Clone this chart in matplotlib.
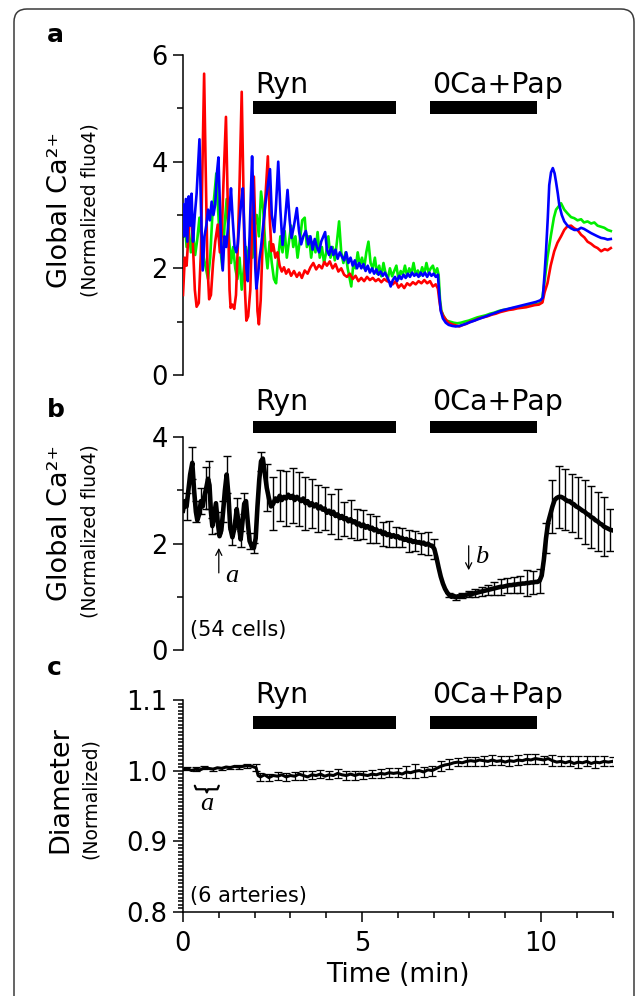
import numpy as np
import matplotlib
matplotlib.use("Agg")
import matplotlib.pyplot as plt
from matplotlib.patches import Rectangle, FancyBboxPatch
from matplotlib.ticker import MultipleLocator, FixedLocator

plt.rcParams['font.family'] = ['DejaVu Sans']
plt.rcParams['mathtext.default'] = 'regular'

# ---------------- Panel a data (three cells) ----------------
red_t = [0.00,0.05,0.10,0.15,0.22,0.28,0.33,0.38,0.44,0.50,0.55,0.59,0.63,0.68,0.73,0.78,0.84,0.90,0.97,1.03,
         1.08,1.13,1.20,1.25,1.30,1.33,1.38,1.43,1.48,1.53,1.58,1.64,1.69,1.73,1.77,1.82,1.88,1.93,1.98,2.03,
         2.08,2.12,2.17,2.22,2.30,2.37,2.42,2.47,2.52,2.58,2.64,2.70,2.76,2.82,2.88,2.95,3.02,3.10,3.18,3.25,
         3.32,3.40,3.48,3.56,3.64,3.72,3.80,3.88,3.95,4.02,4.10,4.18,4.26,4.34,4.42,4.50,4.58,4.66,4.74,4.82,
         4.90,4.98,5.06,5.14,5.22,5.30,5.38,5.46,5.54,5.62,5.70,5.78,5.86,5.94,6.02,6.10,6.18,6.26,6.34,6.42,
         6.50,6.58,6.66,6.74,6.82,6.90,6.98,7.06,7.12,7.16,7.20,7.26,7.34,7.42,7.52,7.62,7.72,7.82,7.92,8.02,
         8.14,8.26,8.38,8.50,8.62,8.74,8.86,8.98,9.10,9.22,9.34,9.46,9.58,9.70,9.82,9.94,10.04,10.10,10.18,10.27,
         10.37,10.46,10.56,10.65,10.74,10.84,10.93,11.02,11.12,11.21,11.30,11.40,11.49,11.58,11.68,11.78,11.86,11.95]
red_v = [1.50,2.20,2.05,2.60,3.25,2.40,1.60,1.28,1.35,2.30,4.20,5.65,4.00,2.10,1.42,1.50,2.10,2.50,2.82,2.30,
         2.60,3.60,4.84,3.20,1.60,1.26,1.32,1.24,1.50,2.40,3.60,5.31,3.40,1.60,1.02,1.10,1.60,2.80,3.72,2.50,
         1.20,0.95,1.40,2.40,3.30,4.10,3.00,2.32,2.45,2.20,2.30,2.05,1.94,2.02,1.90,1.98,1.86,1.95,1.84,1.92,
         1.82,1.96,1.90,2.02,2.10,1.98,2.06,2.00,2.12,2.05,2.13,2.00,2.08,1.94,2.00,1.88,1.84,1.90,1.80,1.86,
         1.76,1.82,1.76,1.84,1.78,1.82,1.76,1.80,1.74,1.80,1.76,1.74,1.70,1.76,1.64,1.70,1.63,1.72,1.68,1.74,
         1.70,1.76,1.72,1.78,1.72,1.76,1.66,1.70,1.62,1.40,1.22,1.12,1.04,0.98,0.95,0.93,0.91,0.94,0.96,1.00,
         1.02,1.06,1.08,1.10,1.13,1.15,1.18,1.20,1.22,1.23,1.25,1.26,1.27,1.29,1.31,1.32,1.36,1.55,1.72,2.05,
         2.32,2.48,2.60,2.72,2.79,2.80,2.75,2.72,2.63,2.58,2.50,2.46,2.41,2.38,2.32,2.36,2.34,2.38]

green_t = [0.00,0.05,0.10,0.16,0.22,0.28,0.34,0.40,0.46,0.52,0.58,0.64,0.70,0.76,0.82,0.88,0.93,0.98,1.04,1.10,
           1.16,1.22,1.28,1.34,1.40,1.46,1.52,1.58,1.64,1.70,1.76,1.82,1.88,1.94,2.00,2.06,2.12,2.18,2.24,2.30,
           2.36,2.42,2.48,2.54,2.60,2.66,2.72,2.78,2.84,2.90,2.96,3.02,3.08,3.14,3.20,3.26,3.33,3.40,3.46,3.52,
           3.58,3.64,3.70,3.76,3.82,3.88,3.94,4.00,4.06,4.12,4.18,4.24,4.30,4.36,4.42,4.48,4.54,4.60,4.66,4.70,
           4.76,4.82,4.88,4.94,5.00,5.06,5.12,5.18,5.24,5.30,5.36,5.42,5.48,5.54,5.60,5.66,5.72,5.78,5.84,5.90,
           5.96,6.02,6.08,6.14,6.20,6.26,6.32,6.38,6.44,6.50,6.56,6.62,6.68,6.74,6.80,6.86,6.92,6.98,7.04,7.10,
           7.14,7.18,7.22,7.28,7.36,7.46,7.56,7.66,7.76,7.86,7.98,8.10,8.22,8.34,8.46,8.58,8.70,8.82,8.94,9.06,
           9.18,9.30,9.42,9.54,9.66,9.78,9.90,10.02,10.09,10.18,10.28,10.36,10.42,10.49,10.56,10.65,10.74,10.84,10.93,11.02,
           11.12,11.20,11.30,11.40,11.49,11.58,11.68,11.77,11.86,11.95]
green_v = [2.60,2.90,2.40,2.75,2.30,2.65,2.25,2.55,2.95,2.50,2.20,2.00,1.80,2.20,3.00,3.40,3.78,3.10,2.40,2.00,
           2.80,3.30,2.60,2.10,2.40,2.00,1.80,2.20,1.60,2.00,2.40,2.10,2.60,2.20,2.80,3.00,2.60,3.44,3.10,2.40,
           2.00,2.50,2.10,1.80,1.72,2.20,2.60,2.30,2.70,2.20,2.50,2.80,2.40,2.60,2.20,2.50,2.90,2.95,2.40,2.60,
           2.20,2.50,2.30,2.68,2.20,2.40,2.10,2.30,2.60,2.20,2.40,2.15,2.50,2.88,2.30,2.10,2.30,2.00,1.80,1.66,
           2.10,2.00,2.30,2.05,2.20,2.00,2.30,2.50,2.10,2.00,2.20,1.90,2.05,1.85,2.10,1.90,1.80,2.00,1.85,1.95,
           2.05,1.80,1.95,1.88,2.05,1.85,2.00,1.90,2.10,1.88,1.96,1.86,2.02,1.90,2.10,1.92,2.00,2.05,1.90,2.00,
           1.88,1.40,1.20,1.10,1.02,1.00,0.98,0.97,0.98,1.00,1.02,1.05,1.08,1.10,1.12,1.15,1.17,1.20,1.22,1.23,
           1.25,1.26,1.28,1.29,1.31,1.32,1.33,1.36,1.70,2.20,2.63,2.95,3.10,3.16,3.22,3.10,3.03,2.96,2.94,2.90,
           2.92,2.86,2.88,2.84,2.86,2.80,2.78,2.76,2.72,2.70]

blue_t = [0.00,0.04,0.08,0.12,0.16,0.20,0.24,0.28,0.33,0.38,0.42,0.46,0.50,0.55,0.60,0.65,0.70,0.75,0.80,0.85,
          0.90,0.95,0.99,1.03,1.07,1.11,1.16,1.21,1.26,1.30,1.34,1.39,1.44,1.49,1.53,1.58,1.62,1.67,1.72,1.77,
          1.81,1.86,1.90,1.93,1.98,2.02,2.05,2.10,2.14,2.18,2.24,2.30,2.36,2.43,2.48,2.55,2.60,2.66,2.72,2.78,
          2.85,2.92,2.98,3.03,3.10,3.18,3.24,3.30,3.36,3.43,3.50,3.56,3.62,3.68,3.74,3.80,3.86,3.92,3.97,4.02,
          4.08,4.14,4.20,4.26,4.32,4.38,4.44,4.50,4.56,4.62,4.68,4.74,4.80,4.86,4.92,4.98,5.04,5.10,5.16,5.22,
          5.28,5.34,5.40,5.46,5.52,5.58,5.64,5.70,5.76,5.80,5.86,5.92,5.98,6.04,6.10,6.16,6.22,6.28,6.34,6.40,
          6.46,6.52,6.58,6.64,6.70,6.76,6.82,6.88,6.94,7.00,7.06,7.12,7.16,7.20,7.26,7.34,7.42,7.52,7.62,7.72,
          7.82,7.94,8.06,8.18,8.30,8.42,8.54,8.66,8.78,8.90,9.02,9.14,9.26,9.38,9.50,9.62,9.74,9.86,9.98,10.05,
          10.10,10.14,10.19,10.23,10.28,10.33,10.38,10.42,10.47,10.51,10.58,10.65,10.74,10.84,10.93,11.02,11.12,11.20,11.30,11.40,
          11.49,11.58,11.68,11.77,11.86,11.95]
blue_v = [3.20,2.60,3.30,2.50,3.35,2.80,3.40,2.50,3.00,3.40,3.90,4.42,3.20,1.96,2.60,2.80,3.10,2.90,3.25,3.00,
          3.20,3.80,4.08,3.20,2.40,1.96,2.60,2.40,2.80,3.10,3.50,2.90,2.40,2.30,2.45,2.90,3.20,3.50,2.60,2.00,
          1.76,2.60,3.50,4.10,3.00,2.00,1.62,1.90,2.20,2.40,2.80,3.20,3.50,3.86,3.00,2.68,3.20,4.00,3.10,2.44,
          2.90,3.47,2.90,2.57,2.80,3.13,2.70,2.45,2.60,2.70,2.45,2.60,2.35,2.55,2.40,2.30,2.50,2.60,2.68,2.35,
          2.25,2.40,2.25,2.35,2.18,2.30,2.22,2.15,2.30,2.10,2.20,2.05,2.15,2.00,2.10,2.00,2.08,1.95,2.05,1.92,
          2.00,1.90,1.98,1.88,1.94,1.86,1.92,1.84,1.75,1.66,1.78,1.84,1.76,1.86,1.80,1.88,1.82,1.90,1.84,1.92,
          1.86,1.90,1.84,1.92,1.86,1.92,1.84,1.92,1.86,1.90,1.84,1.88,1.50,1.20,1.06,0.98,0.94,0.92,0.91,0.92,
          0.94,0.97,1.00,1.03,1.06,1.09,1.12,1.15,1.18,1.21,1.23,1.25,1.27,1.29,1.31,1.33,1.35,1.37,1.40,1.45,
          1.90,2.32,2.95,3.56,3.80,3.88,3.78,3.62,3.40,3.19,3.00,2.88,2.80,2.75,2.72,2.72,2.76,2.74,2.70,2.66,
          2.63,2.60,2.57,2.56,2.54,2.55]

# ---------------- Panel b data (mean of 54 cells, SEM) ----------------
b_t = [0.00,0.05,0.10,0.15,0.20,0.26,0.31,0.36,0.40,0.45,0.50,0.55,0.60,0.65,0.70,0.74,0.78,0.82,0.87,0.92,
       0.97,1.02,1.07,1.12,1.17,1.22,1.27,1.32,1.38,1.44,1.50,1.55,1.61,1.66,1.71,1.76,1.81,1.86,1.92,1.98,
       2.03,2.08,2.13,2.18,2.23,2.28,2.34,2.40,2.46,2.52,2.58,2.64,2.70,2.76,2.82,2.88,2.94,3.00,3.06,3.12,
       3.18,3.24,3.30,3.36,3.42,3.48,3.54,3.60,3.66,3.72,3.78,3.84,3.90,3.96,4.02,4.08,4.14,4.20,4.26,4.32,
       4.38,4.44,4.50,4.56,4.62,4.68,4.74,4.80,4.86,4.92,4.98,5.04,5.10,5.16,5.22,5.28,5.34,5.40,5.46,5.52,
       5.58,5.64,5.70,5.76,5.82,5.88,5.94,6.00,6.06,6.12,6.18,6.24,6.30,6.36,6.42,6.48,6.54,6.60,6.66,6.72,
       6.78,6.84,6.90,6.96,7.02,7.08,7.14,7.20,7.26,7.32,7.38,7.44,7.50,7.56,7.62,7.68,7.74,7.80,7.86,7.92,
       7.98,8.04,8.10,8.16,8.22,8.28,8.34,8.40,8.46,8.52,8.58,8.64,8.70,8.76,8.82,8.88,8.94,9.00,9.06,9.12,
       9.18,9.24,9.30,9.36,9.42,9.48,9.54,9.60,9.66,9.72,9.78,9.84,9.90,9.96,10.02,10.08,10.14,10.20,10.26,10.32,
       10.38,10.44,10.50,10.56,10.62,10.68,10.74,10.80,10.86,10.92,10.98,11.04,11.10,11.16,11.22,11.28,11.34,11.40,11.46,11.52,
       11.58,11.64,11.70,11.76,11.82,11.88,11.94,12.00]
b_v = [2.62,2.80,2.70,3.00,3.30,3.52,3.00,2.60,2.44,2.55,2.80,2.70,2.90,3.05,3.22,3.10,2.60,2.33,2.55,2.76,
       2.40,2.14,2.25,2.60,3.00,3.30,2.90,2.30,2.12,2.30,2.65,2.40,2.08,2.40,2.75,2.80,2.40,2.05,1.95,1.92,
       2.10,2.70,3.20,3.55,3.60,3.35,3.05,2.85,2.70,2.75,2.85,2.80,2.90,2.82,2.88,2.85,2.92,2.86,2.90,2.82,
       2.88,2.84,2.80,2.85,2.76,2.80,2.72,2.76,2.70,2.74,2.66,2.70,2.64,2.66,2.58,2.62,2.56,2.60,2.52,2.55,
       2.48,2.52,2.46,2.48,2.42,2.46,2.40,2.42,2.36,2.38,2.33,2.36,2.30,2.33,2.28,2.30,2.25,2.27,2.22,2.24,
       2.18,2.21,2.16,2.18,2.13,2.16,2.12,2.14,2.10,2.11,2.07,2.09,2.05,2.07,2.03,2.05,2.02,2.03,2.00,2.02,
       1.98,2.00,1.97,1.96,1.90,1.74,1.55,1.38,1.25,1.15,1.08,1.03,1.00,1.02,0.99,1.01,1.00,1.03,1.02,1.04,
       1.05,1.04,1.06,1.07,1.08,1.09,1.10,1.11,1.12,1.13,1.14,1.15,1.16,1.17,1.18,1.19,1.19,1.20,1.21,1.22,
       1.22,1.23,1.23,1.24,1.24,1.25,1.25,1.26,1.26,1.27,1.27,1.28,1.28,1.30,1.40,1.70,2.10,2.40,2.55,2.70,
       2.82,2.86,2.88,2.88,2.86,2.83,2.80,2.80,2.76,2.74,2.70,2.68,2.65,2.62,2.60,2.56,2.54,2.50,2.48,2.44,
       2.42,2.38,2.36,2.32,2.30,2.28,2.26,2.25]
b_err = [0,0,0.25,0,0,0.30,0,0.20,0,0,0.25,0,0,0.40,0,0.45,0,0.15,0,0,
         0.20,0,0,0.20,0,0.35,0,0,0.15,0,0.20,0,0.15,0,0.20,0,0,0.15,0,0.10,
         0,0,0,0.18,0,0,0.44,0,0,0.50,0,0,0.48,0,0,0.52,0,0,0.52,0,
         0,0.50,0,0,0.50,0,0,0.46,0,0,0.45,0,0,0.40,0,0,0.38,0,0,0.47,
         0,0,0.32,0,0,0.36,0,0,0.30,0,0,0.28,0,0,0.27,0,0,0.25,0,0,
         0.22,0,0,0.25,0,0,0.19,0,0,0.18,0,0,0.20,0,0,0.18,0,0,0.20,0,
         0,0.22,0,0,0.18,0,0,0,0,0,0,0.04,0,0,0.05,0,0,0.05,0,0,
         0.06,0,0,0.07,0,0,0.08,0,0,0.10,0,0,0.12,0,0,0.15,0,0,0.14,0,
         0,0.15,0,0,0.16,0,0,0.25,0,0,0.22,0,0,0.22,0,0,0.28,0,0,0.50,
         0,0,0.58,0,0,0.58,0,0,0.55,0,0,0.58,0,0,0.60,0,0,0.58,0,0,
         0.55,0,0,0.55,0,0,0.40,0]

# ---------------- Panel c data (diameter, 6 arteries) ----------------
c_t = [0.00,0.12,0.24,0.36,0.48,0.60,0.72,0.84,0.96,1.08,1.20,1.32,1.44,1.56,1.68,1.80,1.92,2.04,2.10,2.16,
       2.28,2.40,2.52,2.64,2.76,2.88,3.00,3.12,3.24,3.36,3.48,3.60,3.72,3.84,3.96,4.08,4.20,4.32,4.44,4.56,
       4.68,4.80,4.92,5.04,5.16,5.28,5.40,5.52,5.64,5.76,5.88,6.00,6.12,6.24,6.36,6.48,6.60,6.72,6.84,6.96,
       7.08,7.20,7.32,7.44,7.56,7.68,7.80,7.92,8.04,8.16,8.28,8.40,8.52,8.64,8.76,8.88,9.00,9.12,9.24,9.36,
       9.48,9.60,9.72,9.84,9.96,10.08,10.20,10.32,10.44,10.56,10.68,10.80,10.92,11.04,11.16,11.28,11.40,11.52,11.64,11.76,
       11.88,12.00]
c_v = [1.001,1.003,1.000,1.002,1.001,1.004,1.003,1.002,1.004,1.003,1.005,1.004,1.006,1.005,1.006,1.007,1.006,1.004,0.993,0.991,
       0.994,0.990,0.993,0.992,0.994,0.991,0.993,0.992,0.995,0.993,0.991,0.994,0.993,0.995,0.992,0.994,0.993,0.996,0.994,0.993,
       0.995,0.993,0.995,0.994,0.993,0.995,0.994,0.996,0.995,0.997,0.996,0.997,0.995,0.998,0.997,0.999,1.000,0.998,1.001,1.000,
       1.003,1.006,1.008,1.009,1.011,1.012,1.011,1.013,1.014,1.013,1.015,1.014,1.013,1.015,1.013,1.014,1.012,1.014,1.013,1.015,
       1.014,1.016,1.015,1.017,1.016,1.015,1.017,1.014,1.012,1.013,1.011,1.013,1.010,1.012,1.011,1.013,1.010,1.012,1.011,1.013,
       1.012,1.013]
c_err = [0,0.002,0,0.003,0,0.002,0,0.002,0,0.002,0,0.002,0,0.003,0,0.003,0,0.005,0,0.006,
         0,0.005,0,0.006,0,0.006,0,0.006,0,0.006,0,0.006,0,0.006,0,0.006,0,0.006,0,0.006,
         0,0.006,0,0.006,0,0.006,0,0.006,0,0.006,0,0.006,0,0.008,0,0.010,0,0.007,0,0.007,
         0,0.007,0,0.007,0,0.006,0,0.006,0,0.006,0,0.007,0,0.007,0,0.006,0,0.007,0,0.007,
         0,0.007,0,0.007,0,0.006,0,0.008,0,0.007,0,0.007,0,0.008,0,0.007,0,0.008,0,0.007,
         0,0.006]

# treatment periods (min)
ryn_period = (1.95, 5.95)
pap_period = (6.90, 9.90)
ryn_label = "Ryn"
pap_label = "0Ca+Pap"

# ---------------- figure ----------------
W, H = 636, 996
fig = plt.figure(figsize=(W / 100, H / 100), dpi=100)

def fx(x):
    return x / W

def fy(y):
    return 1 - y / H

# rounded frame
frame = FancyBboxPatch((14 / 100, -0.2), (634 - 14) / 100, (996 - 9) / 100 + 0.2,
                       boxstyle="round,pad=0,rounding_size=0.13",
                       transform=fig.dpi_scale_trans, fill=False,
                       edgecolor='#3a3a3a', linewidth=1.1, clip_on=False)
fig.patches.append(frame)

x0px, x1px = 183, 612.6
axA = fig.add_axes([fx(x0px), fy(375), (x1px - x0px) / W, (375 - 55) / H])
axB = fig.add_axes([fx(x0px), fy(650), (x1px - x0px) / W, (650 - 437.3) / H])
axC = fig.add_axes([fx(x0px), fy(911.7), (x1px - x0px) / W, (911.7 - 700) / H])

for ax in (axA, axB, axC):
    ax.set_xlim(0, 12)
    for s in ('top', 'right'):
        ax.spines[s].set_visible(False)
    ax.spines['left'].set_linewidth(1.1)
    ax.spines['bottom'].set_linewidth(1.1)
    ax.tick_params(axis='both', which='major', direction='out', length=7, width=1.1,
                   labelsize=18.5, pad=4)
    ax.tick_params(axis='both', which='minor', direction='out', length=4.5, width=1.1)
    ax.patch.set_visible(False)

for ax in (axA, axB):
    ax.spines['bottom'].set_visible(False)
    ax.set_xticks([])
    ax.tick_params(axis='x', which='both', bottom=False, labelbottom=False)

# Panel a
axA.plot(green_t, green_v, color='#00ee00', lw=1.9, zorder=2)
axA.plot(red_t, red_v, color='#ff0000', lw=1.9, zorder=3)
axA.plot(blue_t, blue_v, color='#0000ff', lw=1.9, zorder=4)
axA.set_ylim(0, 6)
axA.yaxis.set_major_locator(FixedLocator([0, 2, 4, 6]))
axA.yaxis.set_minor_locator(FixedLocator([1, 3, 5]))

# Panel b
b_t_arr = np.array(b_t)
b_v_arr = np.array(b_v)
b_e_arr = np.array(b_err)
m = b_e_arr > 0
axB.errorbar(b_t_arr[m], b_v_arr[m], yerr=b_e_arr[m], fmt='none', ecolor='black',
             elinewidth=1.0, capsize=3.2, capthick=1.0, zorder=2)
axB.plot(b_t, b_v, color='black', lw=3.3, zorder=3)
axB.set_ylim(0, 4)
axB.yaxis.set_major_locator(FixedLocator([0, 2, 4]))
axB.yaxis.set_minor_locator(FixedLocator([1, 3]))

# Panel c
c_t_arr = np.array(c_t)
c_v_arr = np.array(c_v)
c_e_arr = np.array(c_err)
mc = c_e_arr > 0
axC.errorbar(c_t_arr[mc], c_v_arr[mc], yerr=c_e_arr[mc], fmt='none', ecolor='black',
             elinewidth=0.9, capsize=2.6, capthick=0.9, zorder=2)
axC.plot(c_t, c_v, color='black', lw=2.2, zorder=3)
axC.set_ylim(0.8, 1.1)
axC.yaxis.set_major_locator(FixedLocator([0.8, 0.9, 1.0, 1.1]))
axC.yaxis.set_minor_locator(MultipleLocator(0.005))
axC.set_yticklabels(['0.8', '0.9', '1.0', '1.1'])
axC.xaxis.set_major_locator(FixedLocator([0, 5, 10]))
axC.xaxis.set_minor_locator(MultipleLocator(1))
axC.tick_params(axis='y', which='minor', length=3.5)
axC.tick_params(axis='x', which='major', pad=7)
axC.tick_params(axis='x', which='minor', length=4.5)

# treatment bars and labels
bar_specs = [  # (axis, bar centre, bar thickness, text baseline)
    (axA, 5.016, 0.237, 5.29),
    (axB, 4.19, 0.237, 4.51),
    (axC, 1.0677, 0.0179, 1.0956),
]
for ax, yc, th, ytxt in bar_specs:
    for (t0, t1), lab in ((ryn_period, ryn_label), (pap_period, pap_label)):
        ax.add_patch(Rectangle((t0, yc - th / 2), t1 - t0, th, facecolor='black',
                               edgecolor='none', clip_on=False, zorder=5))
        ax.text(t0 + 0.06, ytxt, lab, fontsize=20.5, va='baseline', ha='left',
                clip_on=False)

# annotations in b
serif = ['Liberation Serif', 'DejaVu Serif']
axB.annotate('', xy=(1.00, 1.92), xytext=(1.00, 1.45),
             arrowprops=dict(arrowstyle='->', lw=0.9, color='black', mutation_scale=11,
                             shrinkA=0, shrinkB=0))
axB.text(1.37, 1.28, 'a', fontsize=19, style='italic', family=serif,
         ha='center', va='baseline')
axB.annotate('', xy=(7.98, 1.50), xytext=(7.98, 1.96),
             arrowprops=dict(arrowstyle='->', lw=0.9, color='black', mutation_scale=11,
                             shrinkA=0, shrinkB=0))
axB.text(8.34, 1.63, 'b', fontsize=19, style='italic', family=serif,
         ha='center', va='baseline')
axB.text(0.20, 0.376, '(54 cells)', fontsize=15, ha='left', va='center')

# annotations in c
brace_x = [0.33, 0.37, 0.63, 0.665, 0.70, 0.96, 1.00]
brace_y = [0.9785, 0.9735, 0.9735, 0.9690, 0.9735, 0.9735, 0.9785]
axC.plot(brace_x, brace_y, color='black', lw=1.6, solid_capstyle='round', zorder=4)
axC.text(0.665, 0.944, 'a', fontsize=19, style='italic', family=serif,
         ha='center', va='baseline')
axC.text(0.20, 0.8225, '(6 arteries)', fontsize=15, ha='left', va='center')

# axis labels
for yc, big in ((210, 'Global Ca\u00b2\u207a'), (523, 'Global Ca\u00b2\u207a'), (790, 'Diameter')):
    fig.text(fx(67), fy(yc), big, rotation=90, rotation_mode='anchor', ha='center',
             va='baseline', fontsize=19.5)
small_labels = ((210, '(Normalized fluo4)'), (531, '(Normalized fluo4)'), (799, '(Normalized)'))
for ync, txt in small_labels:
    fig.text(fx(96), fy(ync), txt, rotation=90, rotation_mode='anchor', ha='center',
             va='baseline', fontsize=13.5)

fig.text(fx(397.5), fy(975), 'Time (min)', ha='center', va='center', fontsize=19)

# panel letters
for ypx, letter in ((42, 'a'), (417, 'b'), (675, 'c')):
    fig.text(fx(47), fy(ypx), letter, fontsize=18, fontweight='bold', va='baseline', ha='left')

fig.savefig('out.png', dpi=100)
